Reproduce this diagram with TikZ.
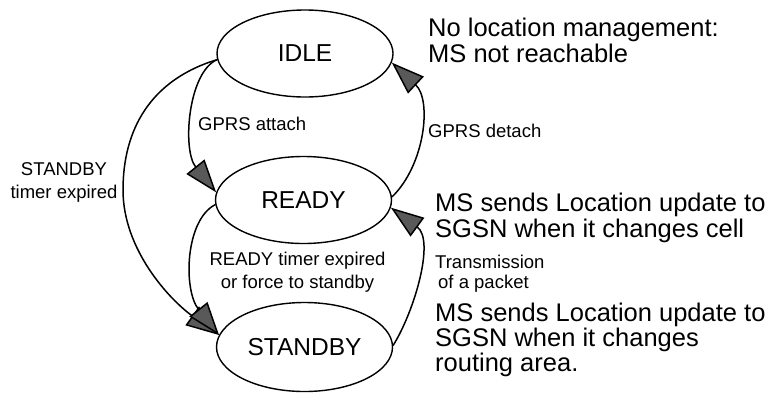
\documentclass[tikz,border=0pt]{standalone}
\usepackage{fontspec}
\setmainfont{Liberation Sans}
\usetikzlibrary{shapes.geometric,arrows.meta}
\begin{document}
\begin{tikzpicture}[x=1pt,y=-1pt,
  state/.style={ellipse,draw,line width=1.4pt,minimum width=176pt,minimum height=87pt,
    inner sep=0pt,font=\fontsize{24.5}{29}\selectfont},
  trans/.style={line width=1.5pt,
    -{Triangle[length=33pt,width=23pt,fill=black!65]}},
  note/.style={inner sep=0pt,align=left,anchor=north west},
  lbl/.style={inner sep=0pt,font=\fontsize{18.5}{23}\selectfont}]
\useasboundingbox (0,0) rectangle (770,402);

% states
\node[state] (idle) at (305,53.5) {IDLE};
\node[state] (ready) at (303.5,200) {READY};
\node[state,minimum height=89pt] (standby) at (304.5,347) {STANDBY};

% transitions
\draw[trans] (idle.184) .. controls (188,72) and (182,150) .. (ready.175);
\draw[trans] (idle.184) .. controls (150,80) and (123,130) .. (123,190)
  .. controls (123,250) and (170,300) .. (standby.172);
\draw[trans] (ready.183) .. controls (185,220) and (183,290) .. (standby.172);
\draw[trans] (ready.2) .. controls (425,165) and (432,100) .. (idle.354);
\draw[trans] (standby.1) .. controls (415,310) and (435,240) .. (ready.355);

% transition labels
\node[lbl,anchor=base west] (lattach) at (198,130) {GPRS attach};
\node[lbl,anchor=base west] (ldetach) at (428,137) {GPRS detach};
\node[lbl,anchor=north,align=center] (lsbt) at (64,162.5) {STANDBY\\timer expired};
\node[lbl,anchor=north,align=center] (lrdt) at (297.5,251.5)
  {READY timer expired\\or force to standby};
\node[lbl,anchor=north west,align=left,font=\fontsize{18.5}{20}\selectfont] (ltx)
  at (435,254.5) {Transmission\\\hspace*{3pt}of a packet};

% state descriptions
\node[note,font=\fontsize{25.5}{26.5}\selectfont] (nidle) at (428,17.5)
  {No location management:\\MS not reachable};
\node[note,font=\fontsize{25.5}{26}\selectfont] (nready) at (435,192.5)
  {MS sends Location update to\\SGSN when it changes cell};
\node[note,font=\fontsize{25.5}{25}\selectfont] (nstandby) at (435,302.5)
  {MS sends Location update to\\SGSN when it changes\\routing area.};
\end{tikzpicture}
\end{document}
